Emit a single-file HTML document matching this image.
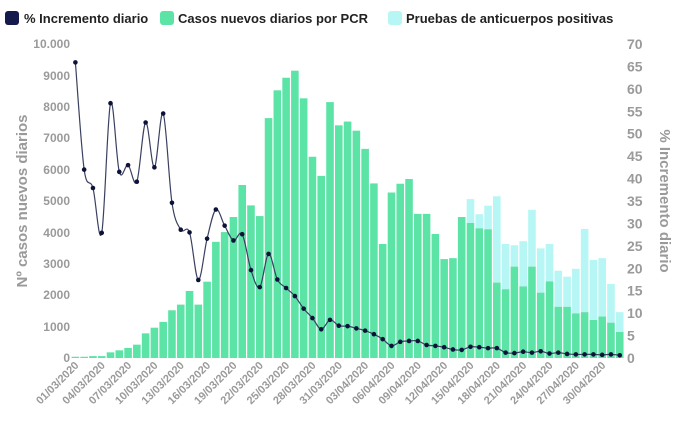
<!DOCTYPE html>
<html><head><meta charset="utf-8"><style>
body{margin:0;background:#fff;width:680px;height:425px;overflow:hidden}
svg{font-family:"Liberation Sans",sans-serif;font-weight:bold}
</style></head><body>
<svg id="c" width="680" height="425" xmlns="http://www.w3.org/2000/svg">
<g id="bars"></g><g id="line"></g>
<g font-size="12" fill="#9a9a9a" text-anchor="end">
<text x="70" y="48">10.000</text><text x="70" y="80">9000</text><text x="70" y="111">8000</text><text x="70" y="142">7000</text><text x="70" y="174">6000</text><text x="70" y="205">5000</text><text x="70" y="237">4000</text><text x="70" y="268">3000</text><text x="70" y="299">2000</text><text x="70" y="331">1000</text><text x="70" y="362">0</text>
</g>
<g font-size="14" fill="#9a9a9a" text-anchor="start">
<text x="627" y="49">70</text><text x="627" y="94">65</text><text x="627" y="139">60</text><text x="627" y="183">55</text><text x="627" y="228">50</text><text x="627" y="273">45</text><text x="627" y="318">40</text><text x="627" y="363">35</text>
</g>
<g font-size="14" fill="#9a9a9a" text-anchor="start" id="rl"></g>
<text transform="translate(27,201) rotate(-90)" font-size="15" fill="#9a9a9a" text-anchor="middle">Nº casos nuevos diarios</text>
<text transform="translate(660,201) rotate(90)" font-size="15" fill="#9a9a9a" text-anchor="middle">% Incremento diario</text>
<g font-size="11" fill="#9a9a9a" text-anchor="end" id="xl">
<text>01/03/2020</text><text>04/03/2020</text><text>07/03/2020</text><text>10/03/2020</text><text>13/03/2020</text><text>16/03/2020</text><text>19/03/2020</text><text>22/03/2020</text><text>25/03/2020</text><text>28/03/2020</text><text>31/03/2020</text><text>03/04/2020</text><text>06/04/2020</text><text>09/04/2020</text><text>12/04/2020</text><text>15/04/2020</text><text>18/04/2020</text><text>21/04/2020</text><text>24/04/2020</text><text>27/04/2020</text><text>30/04/2020</text>
</g>
<g font-size="13" fill="#222">
<rect x="5" y="11" width="14" height="14" rx="3" fill="#141a4a"/><text x="24" y="23">% Incremento diario</text>
<rect x="160" y="11" width="14" height="14" rx="3" fill="#5ce3a6"/><text x="178" y="23">Casos nuevos diarios por PCR</text>
<rect x="388" y="11" width="14" height="14" rx="3" fill="#b6f6f4"/><text x="406" y="23">Pruebas de anticuerpos positivas</text>
</g>
</svg>
<script>
var G=[40,40,60,60,180,245,320,425,785,965,1150,1520,1700,2135,1700,2430,3700,4010,4490,5510,4860,4520,7640,8525,8925,9150,8270,6410,5800,8150,7410,7530,7240,6660,5560,3630,5270,5550,5700,4590,4590,3950,3150,3180,4490,4300,4130,4100,2400,2190,2910,2280,2910,2080,2440,1630,1630,1420,1460,1210,1320,1125,830];
var L=[0,0,0,0,0,0,0,0,0,0,0,0,0,0,0,0,0,0,0,0,0,0,0,0,0,0,0,0,0,0,0,0,0,0,0,0,0,0,0,0,0,0,0,0,0,5060,4580,4850,5150,3630,3590,3720,4720,3490,3630,2780,2590,2840,4110,3120,3180,2360,1460];
var P=[65.9,42,37.9,27.9,56.8,41.5,43,39.3,52.5,42.5,54.5,34.6,28.6,28,17.4,26.6,33.1,29.5,26.2,27.6,19.6,15.8,23.2,17.5,15.6,13.8,11,8.9,6.4,8.5,7.2,7.1,6.6,6.1,5.3,4.2,2.7,3.6,3.8,3.8,2.9,2.7,2.4,1.9,1.8,2.5,2.4,2.2,2.2,1.2,1.1,1.4,1.2,1.5,1.0,1.2,0.9,0.8,0.8,0.8,0.7,0.8,0.6];
var x0=71,st=8.78,y0=358,k=314/10000,ns="http://www.w3.org/2000/svg";
function el(t,a,p){var e=document.createElementNS(ns,t);for(var q in a)e.setAttribute(q,a[q]);p.appendChild(e);return e}
var b=document.getElementById('bars');
for(var i=0;i<G.length;i++){var x=x0+st*i+0.6,w=st-1.2;
 if(L[i]>G[i])el('rect',{x:x,y:y0-L[i]*k,width:w,height:L[i]*k-G[i]*k,fill:'#b6f6f4'},b);
 el('rect',{x:x,y:y0-G[i]*k,width:w,height:G[i]*k,fill:'#5ce3a6'},b);}
var pts=P.map(function(v,i){return[x0+st*(i+0.5),y0-v*314/70]});
var d='M'+pts[0];for(var i=0;i<pts.length-1;i++){var p0=pts[Math.max(i-1,0)],p1=pts[i],p2=pts[i+1],p3=pts[Math.min(i+2,pts.length-1)];
 d+=' C'+(p1[0]+(p2[0]-p0[0])/6)+','+(p1[1]+(p2[1]-p0[1])/6)+' '+(p2[0]-(p3[0]-p1[0])/6)+','+(p2[1]-(p3[1]-p1[1])/6)+' '+p2;}
var lg=document.getElementById('line');
el('path',{d:d,fill:'none',stroke:'#3a4060','stroke-width':1.2},lg);
pts.forEach(function(p){el('circle',{cx:p[0],cy:p[1],r:2.3,fill:'#0d1238'},lg)});
// fix right labels: place 0..70
var rs=document.querySelectorAll('svg > g:nth-of-type(4) text');rs.forEach(function(t){t.remove()});
var rl=document.getElementById('rl');
['0','5','10','15','20','25','30','35','40','45','50','55','60','65','70'].forEach(function(s){var v=+s;var t=el('text',{x:627,y:y0-v*314/70+5},rl);t.textContent=s});
var xl=document.querySelectorAll('#xl text');
xl.forEach(function(t,j){var cx=x0+st*(3*j+0.5)+4,cy=366;t.setAttribute('transform','translate('+cx+','+cy+') rotate(-45)')});
</script>
</body></html>
